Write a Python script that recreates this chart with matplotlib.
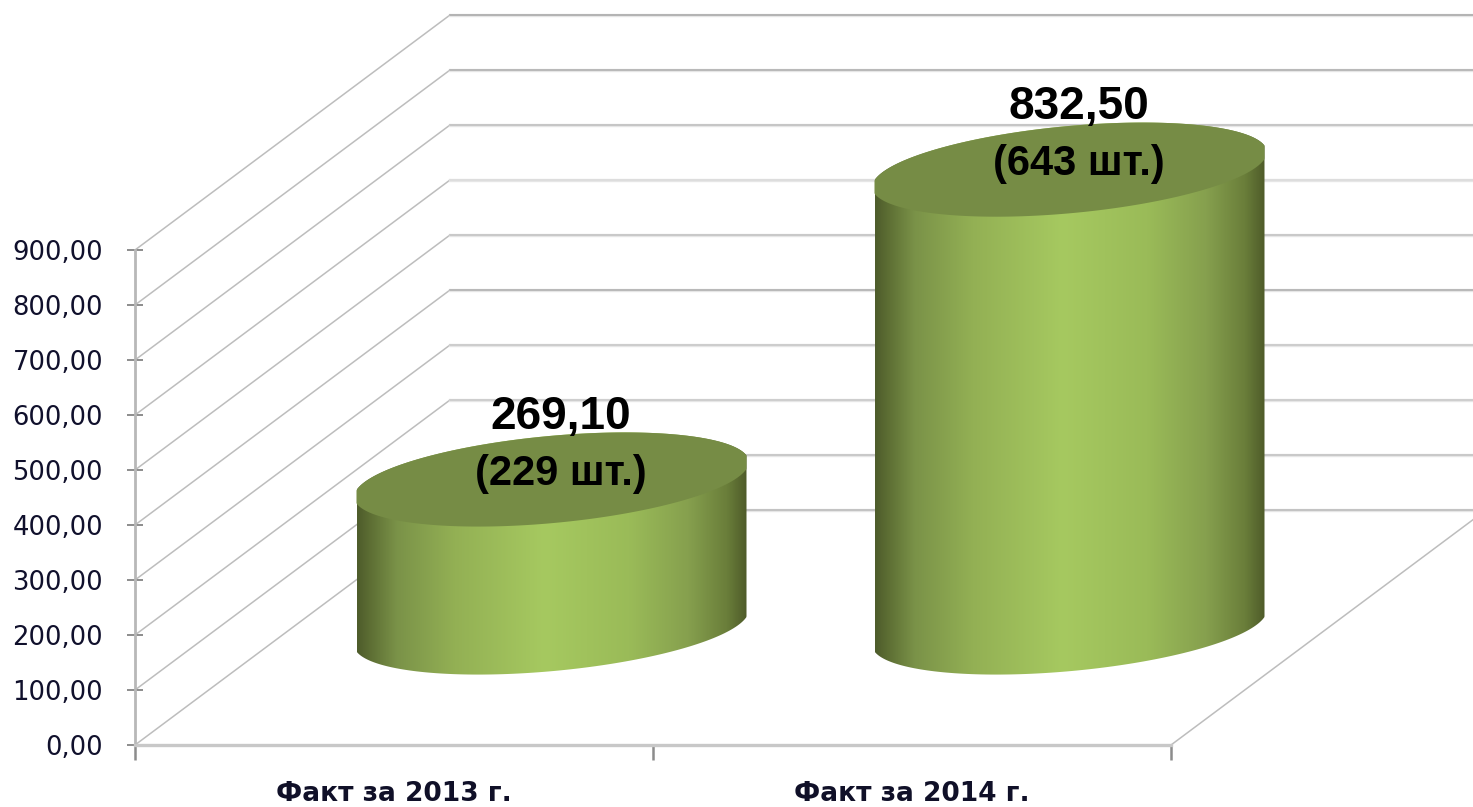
# cylinders chart, 2013 vs 2014
import numpy as np
import matplotlib
matplotlib.use('Agg')
import matplotlib.pyplot as plt
from matplotlib.colors import LinearSegmentedColormap
from matplotlib.patches import Polygon

# data
categories = ['Факт за 2013 г.', 'Факт за 2014 г.']
values = [269.10, 832.50]
counts = [229, 643]
y_ticks = [0, 100, 200, 300, 400, 500, 600, 700, 800, 900]

# 518 px per category, 0.55 px per unit on y
px_x = 518.0
px_y = 0.55
depth_x = 315 / px_x
depth_y = 235 / px_y
radius = 195 / px_x
tilt = 17.5 / px_y
minor_axis = 43.7 / px_y

fig = plt.figure(figsize=(14.73, 8.07), dpi=100)
ax = fig.add_axes([0, 0, 1, 1])
ax.set_xlim(-0.5 - 135 / px_x, -0.5 + (1473 - 135) / px_x)
ax.set_ylim(-(807 - 745) / px_y, 745 / px_y)

# axes lines and ticks
for name in ['top', 'right']:
    ax.spines[name].set_visible(False)
ax.spines['left'].set_position(('data', -0.5))
ax.spines['left'].set_bounds(0, 900)
ax.spines['left'].set_color('#b8b8b8')
ax.spines['left'].set_linewidth(2)
ax.spines['bottom'].set_position(('data', 0))
ax.spines['bottom'].set_bounds(-0.5, 1.5)
ax.spines['bottom'].set_color('#c8c8c8')
ax.spines['bottom'].set_linewidth(2.4)

ax.set_yticks(y_ticks)
ax.set_yticklabels([f'{v:.2f}'.replace('.', ',') for v in y_ticks],
                   fontsize=18.6, color='#10102c')
ax.tick_params(axis='y', direction='inout', length=11, width=1.4, color='#8c8c8c', pad=17.5)
ax.set_xticks([-0.5, 0.5, 1.5])
ax.set_xticklabels([])
ax.tick_params(axis='x', which='major', direction='out', length=10.5, width=1.8, color='#8c8c8c')
ax.set_xticks([0, 1], minor=True)
ax.set_xticklabels(categories, minor=True, fontsize=19, color='#101028', fontweight='bold')
ax.tick_params(axis='x', which='minor', length=0, pad=26)

# back wall and side wall lines
grid_colors = ['#bcbcbc', '#c4c4c4', '#cacaca', '#c8c8c8', '#b0b0b0',
               '#c4c4c4', '#dcdcdc', '#c0c0c0', '#b0b0b0', '#aaaaaa']
for v, c in zip(y_ticks, grid_colors):
    ax.plot([-0.5, -0.5 + depth_x], [v, v + depth_y], color='#bdbdbd', lw=1.1, zorder=1)
    ax.plot([-0.5 + depth_x, 5], [v + depth_y, v + depth_y], color='#e6e6e6', lw=2.4, zorder=1)
    ax.plot([-0.5 + depth_x, 5], [v + depth_y, v + depth_y], color=c, lw=1.2, zorder=1)
ax.plot([1.5, 1.5 + depth_x], [0, depth_y], color='#bdbdbd', lw=1.1, zorder=1)

# cylinder shading
shade = LinearSegmentedColormap.from_list('shade', [
    (0.0, '#4e5c2b'), (0.03, '#5c6d33'), (0.10, '#7a9248'), (0.25, '#93b054'),
    (0.48, '#a6c960'), (0.70, '#9abb58'), (0.85, '#86a04e'), (0.95, '#6a7e3a'), (1.0, '#4f5c2a')])
gradient = np.linspace(0, 1, 256).reshape(1, -1)

t_low = np.linspace(np.pi, 2 * np.pi, 120)
t_up = np.linspace(0, np.pi, 120)
t_all = np.linspace(0, 2 * np.pi, 240)


def ring(center, level, t):
    # ellipse a bit wider than the cylinder, the ends are cut in the original
    c = np.cos(t)
    xs = center + np.clip(1.012 * radius * c, -radius, radius)
    ys = level + tilt * c + minor_axis * np.sin(t)
    return np.column_stack([xs, ys])


for i, v in enumerate(values):
    cx = i + depth_x / 2
    base = depth_y / 2
    top = base + v
    body = Polygon(np.vstack([ring(cx, base, t_low), ring(cx, top, t_up)]),
                   closed=True, facecolor='none', edgecolor='none', transform=ax.transData)
    ax.add_patch(body)
    img = ax.imshow(gradient, cmap=shade, aspect='auto', zorder=3,
                    extent=[cx - radius, cx + radius, base - 200, top + 200])
    img.set_clip_path(body)
    ax.add_patch(Polygon(ring(cx, top, t_all), closed=True, facecolor='#768c45',
                         edgecolor='none', zorder=4))

    # labels over the top face
    ax.annotate(f'{v:.2f}'.replace('.', ','), (cx, top), xytext=(6.5, 45), textcoords='offset points',
                ha='center', va='center', fontsize=33, fontweight='bold', color='black',
                family='Liberation Sans', zorder=5)
    ax.annotate(f'({counts[i]} шт.)', (cx, top), xytext=(7, 4), textcoords='offset points',
                ha='center', va='center', fontsize=30, fontweight='bold', color='black',
                family='Liberation Sans', zorder=5)

# imshow changes limits
ax.set_xlim(-0.5 - 135 / px_x, -0.5 + (1473 - 135) / px_x)
ax.set_ylim(-(807 - 745) / px_y, 745 / px_y)

fig.savefig('out.png', dpi=100)
